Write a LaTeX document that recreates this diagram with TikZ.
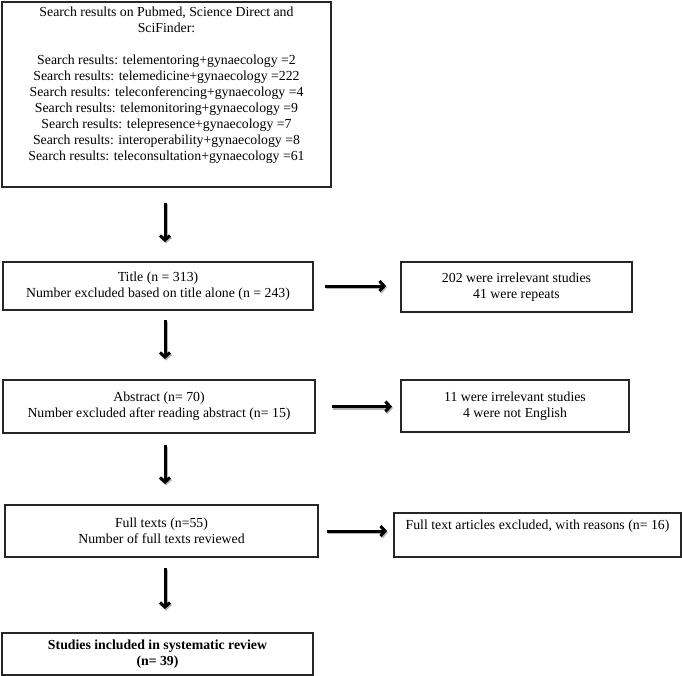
\documentclass[tikz,border=0pt]{standalone}
\usepackage{fontspec}
\setmainfont{Liberation Serif}
\usetikzlibrary{arrows.meta}
\begin{document}
\begin{tikzpicture}[x=1pt,y=-1pt,
  box/.style={draw=black!85, line width=1.1pt, rectangle, inner sep=0pt, outer sep=0pt,
    align=center, text=black, font=\fontsize{13.8}{16}\selectfont},
  arr/.style={line width=3pt, -{Straight Barb[length=4.5pt,width=10pt,line width=3pt]},
    preaction={draw=black!30, line width=3.5pt, transform canvas={shift={(1pt,-1.5pt)}}}}]
\useasboundingbox (0,0) rectangle (682,676);
\fill[white] (0,0) rectangle (682,676);
\coordinate (col) at (165,0);

\node[box, minimum width=329pt, minimum height=185pt] (search) at (166.5,94.5)
  {Search results on Pubmed, Science Direct and\\ SciFinder:\\[16pt]
   Search results: telementoring+gynaecology =2\\
   Search results: telemedicine+gynaecology =222\\
   Search results: teleconferencing+gynaecology =4\\
   Search results: telemonitoring+gynaecology =9\\
   Search results: telepresence+gynaecology =7\\
   Search results: interoperability+gynaecology =8\\
   Search results: teleconsultation+gynaecology =61\\ \strut};

\node[box, minimum width=310pt, minimum height=48pt] (title) at (158,286)
  {Title (n = 313)\\ Number excluded based on title alone (n = 243)};
\node[box, minimum width=231pt, minimum height=50pt] (ex1) at (516.5,287)
  {202 were irrelevant studies\\ 41 were repeats};

\node[box, minimum width=312pt, minimum height=53pt] (abs) at (159,406.5)
  {Abstract (n= 70)\\ Number excluded after reading abstract (n= 15)};
\node[box, minimum width=228pt, minimum height=52pt] (ex2) at (515,406)
  {11 were irrelevant studies\\ 4 were not English};

\node[box, minimum width=313pt, minimum height=52pt] (full) at (161.5,531)
  {Full texts (n=55)\\ Number of full texts reviewed};
\node[box, minimum width=287pt, minimum height=44pt] (ex3) at (537.5,535)
  {Full text articles excluded, with reasons (n= 16)\\ \strut};

\node[box, minimum width=311pt, minimum height=42pt, font=\fontsize{13.8}{16}\selectfont\bfseries] (final) at (157.5,654)
  {Studies included in systematic review\\ (n= 39)};

\draw[arr, shorten <=16pt, shorten >=20pt] (search.south -| col) -- (title.north -| col);
\draw[arr, shorten <=10pt, shorten >=21pt] (title.south -| col) -- (abs.north -| col);
\draw[arr, shorten <=12pt, shorten >=21pt] (abs.south -| col) -- (full.north -| col);
\draw[arr, shorten <=11pt, shorten >=24pt] (full.south -| col) -- (final.north -| col);

\draw[arr, shorten <=12pt, shorten >=15pt] (title.east) -- (title.east -| ex1.west);
\draw[arr, shorten <=17pt, shorten >=9pt] (abs.east) -- (abs.east -| ex2.west);
\draw[arr, shorten <=9pt, shorten >=7pt] (full.east) -- (full.east -| ex3.west);
\end{tikzpicture}
\end{document}
